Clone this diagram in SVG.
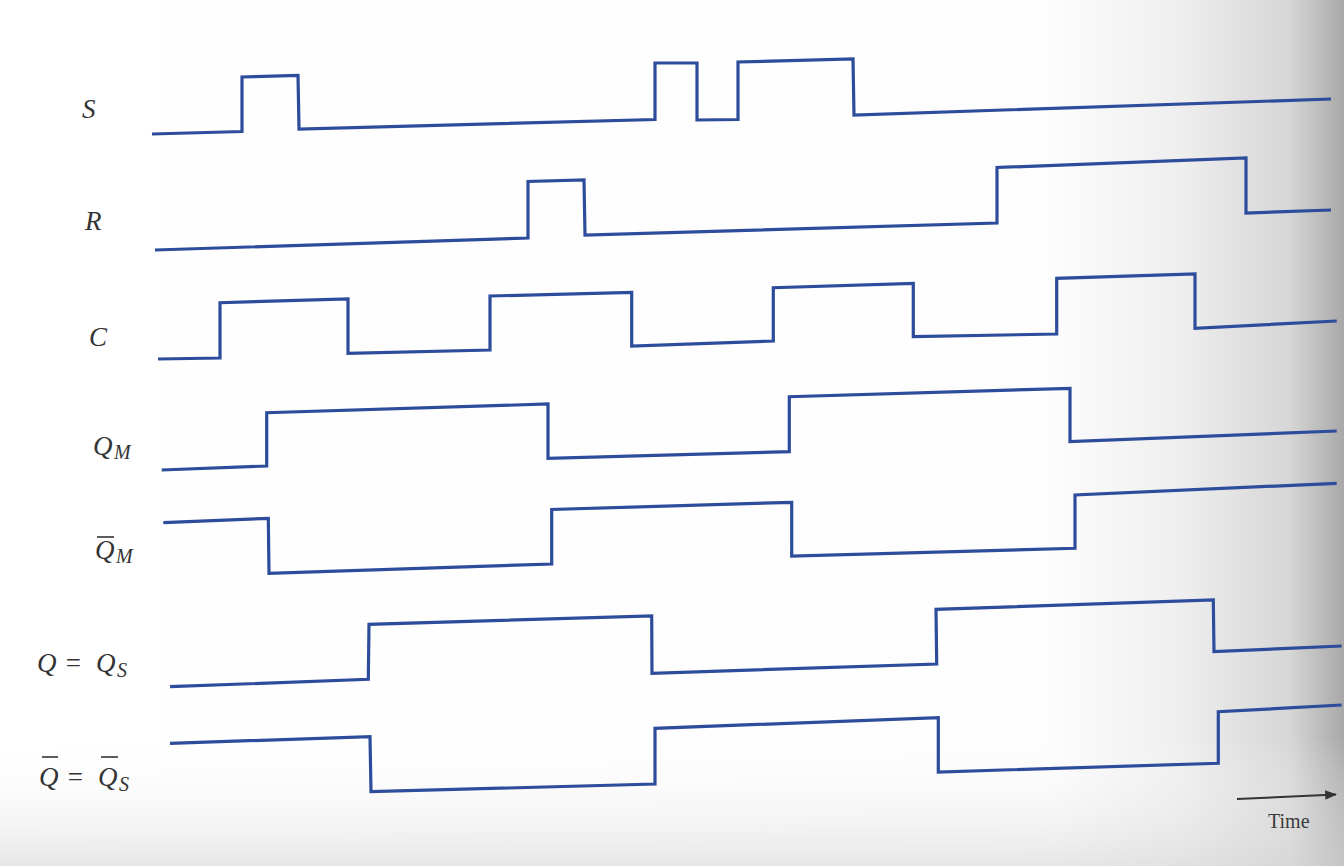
<svg xmlns="http://www.w3.org/2000/svg" width="1344" height="866" viewBox="0 0 1344 866">
  <defs>
    <linearGradient id="shade" x1="0" y1="0" x2="1" y2="0">
      <stop offset="0" stop-color="#ffffff"/>
      <stop offset="0.78" stop-color="#fdfdfd"/>
      <stop offset="0.88" stop-color="#eeeeee"/>
      <stop offset="0.96" stop-color="#d6d6d6"/>
      <stop offset="1" stop-color="#a8a8a8"/>
    </linearGradient>
    <linearGradient id="shadeV" x1="0" y1="0" x2="0" y2="1">
      <stop offset="0" stop-color="#ffffff" stop-opacity="0"/>
      <stop offset="0.85" stop-color="#ffffff" stop-opacity="0"/>
      <stop offset="1" stop-color="#d8d8d8" stop-opacity="0.6"/>
    </linearGradient>
    <marker id="arrow" viewBox="0 0 10 10" refX="9" refY="5" markerWidth="6" markerHeight="6" orient="auto" markerUnits="strokeWidth">
      <path d="M0,1 L10,5 L0,9 z" fill="#333333"/>
    </marker>
  </defs>
  <style>
    .wave { fill: none; stroke: #2d4c9c; stroke-width: 3.2; stroke-linejoin: miter; stroke-linecap: butt; }
    .lbl { font-family: "Liberation Serif", "Times New Roman", serif; font-style: italic; font-size: 27px; fill: #333333; }
    .sub { font-family: "Liberation Serif", "Times New Roman", serif; font-style: italic; font-size: 20px; fill: #333333; }
    .bar { stroke: #333333; stroke-width: 1.6; }
    .time { font-family: "Liberation Serif", "Times New Roman", serif; font-size: 20px; fill: #3a3a3a; }
  </style>
  <rect x="0" y="0" width="1344" height="866" fill="url(#shade)"/>
  <rect x="0" y="0" width="1344" height="866" fill="url(#shadeV)"/>

  <g id="sig-S">
    <text class="lbl" x="82" y="118">S</text>
    <polyline class="wave" points="152,134 242,131.5 242,77 298,75.5 299,129 655,119.5 655,63 697,63 697,120 738,119.5 738,62 853,59 854,115 1331,99"/>
  </g>
  <g id="sig-R">
    <text class="lbl" x="85" y="230">R</text>
    <polyline class="wave" points="155,250 528,238 528,181.5 584,180 585,235 997,223 997,167.5 1246,158 1246,213 1331,210"/>
  </g>
  <g id="sig-C">
    <text class="lbl" x="89" y="346">C</text>
    <polyline class="wave" points="158,359 220,358 220,302.7 348,299 348,353.3 490,350 490,296 631.7,292.3 631.7,346 773.3,341 773.3,287.7 913.3,283.3 913.3,336.7 1056.7,334 1056.7,278.3 1195,274 1195,328.3 1336.7,321"/>
  </g>
  <g id="sig-QM">
    <text class="lbl" x="93" y="455">Q</text>
    <text class="sub" x="114" y="459">M</text>
    <polyline class="wave" points="161.7,470 266.7,466 266.7,412.7 548,404 548,458.3 789.3,451.7 789.3,396.7 1070,388.3 1070,441.7 1336.7,431"/>
  </g>
  <g id="sig-QMbar">
    <text class="lbl" x="95" y="559">Q</text>
    <text class="sub" x="116" y="563">M</text>
    <line class="bar" x1="97" y1="537" x2="114" y2="537"/>
    <polyline class="wave" points="163.3,522.7 268.3,518.3 269,573.3 551.7,564 551.7,509.5 791.7,502.3 791.7,556 1075,548.3 1075,495 1336.7,483.3"/>
  </g>
  <g id="sig-Q">
    <text class="lbl" x="37" y="672">Q</text>
    <text class="lbl" x="64" y="672">=</text>
    <text class="lbl" x="96" y="672">Q</text>
    <text class="sub" x="117" y="677">S</text>
    <polyline class="wave" points="170,686.7 368.3,679.3 369,624.3 651.7,616 652,673.3 936.7,664 936,609.3 1213.3,600 1214,651.7 1341.7,646"/>
  </g>
  <g id="sig-Qbar">
    <text class="lbl" x="39" y="786">Q</text>
    <text class="lbl" x="66" y="786">=</text>
    <text class="lbl" x="98" y="786">Q</text>
    <text class="sub" x="119" y="791">S</text>
    <line class="bar" x1="42" y1="757" x2="58" y2="757"/>
    <line class="bar" x1="101" y1="757" x2="118" y2="757"/>
    <polyline class="wave" points="170,743.3 370,736.7 371,791.7 655,784 655,728.3 938.3,717.7 938.3,772 1218.3,763.3 1218.3,711.7 1341.7,705"/>
  </g>

  <g id="connectors">
    <line x1="1237" y1="799" x2="1336" y2="794.5" stroke="#333333" stroke-width="2" marker-end="url(#arrow)"/>
  </g>
  <g id="time-label">
    <text class="time" x="1268" y="828">Time</text>
  </g>
</svg>
